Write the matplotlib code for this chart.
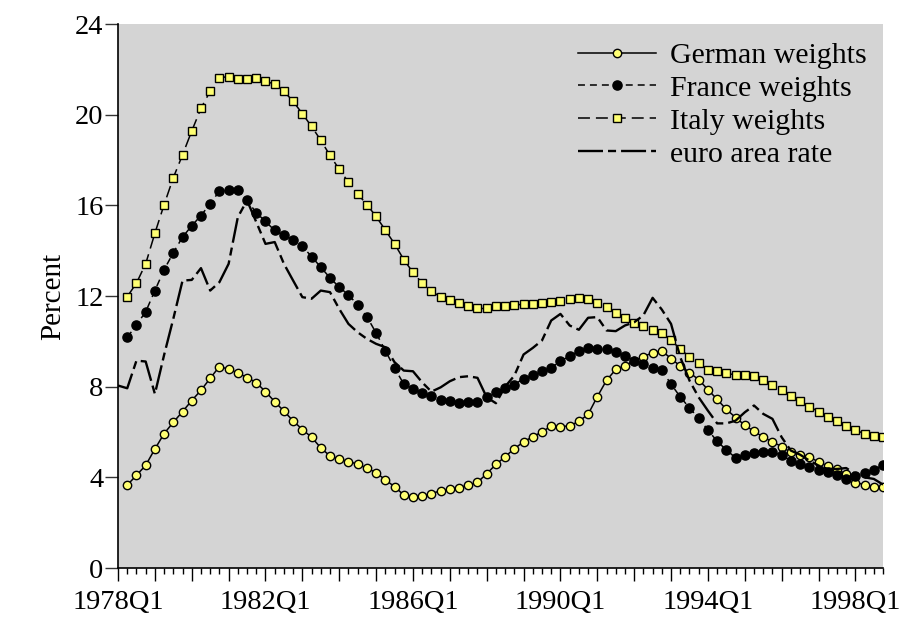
import numpy as np
import matplotlib
matplotlib.use("Agg")
import matplotlib.pyplot as plt
from matplotlib.ticker import MultipleLocator, FixedLocator

plt.rcParams['font.family'] = ['Liberation Serif', 'DejaVu Serif']
plt.rcParams['lines.scale_dashes'] = False

# quarterly data, weights start 1978Q2, euro area rate starts 1978Q1
german = [3.66, 4.09, 4.53, 5.25, 5.93, 6.43, 6.90, 7.39, 7.84, 8.37,
          8.89, 8.77, 8.61, 8.40, 8.18, 7.78, 7.34, 6.92, 6.49, 6.11,
          5.77, 5.30, 4.94, 4.81, 4.69, 4.59, 4.40, 4.21, 3.89, 3.59,
          3.22, 3.13, 3.16, 3.28, 3.41, 3.47, 3.55, 3.65, 3.78, 4.16,
          4.57, 4.91, 5.27, 5.56, 5.80, 6.00, 6.27, 6.24, 6.27, 6.47,
          6.78, 7.56, 8.28, 8.76, 8.93, 9.15, 9.33, 9.49, 9.58, 9.24,
          8.91, 8.62, 8.31, 7.87, 7.44, 7.00, 6.64, 6.30, 6.03, 5.78,
          5.56, 5.36, 5.10, 5.00, 4.90, 4.68, 4.50, 4.35, 4.15, 3.77,
          3.68, 3.58, 3.58]
france = [10.17, 10.73, 11.30, 12.24, 13.16, 13.91, 14.60, 15.10, 15.55, 16.07,
          16.63, 16.66, 16.66, 16.22, 15.67, 15.29, 14.89, 14.67, 14.48, 14.19,
          13.74, 13.27, 12.80, 12.39, 12.05, 11.61, 11.09, 10.37, 9.59, 8.82,
          8.12, 7.90, 7.74, 7.59, 7.42, 7.36, 7.30, 7.31, 7.34, 7.56,
          7.78, 7.95, 8.09, 8.36, 8.50, 8.68, 8.84, 9.12, 9.36, 9.56,
          9.70, 9.67, 9.64, 9.52, 9.37, 9.15, 8.98, 8.81, 8.72, 8.11,
          7.55, 7.06, 6.61, 6.09, 5.59, 5.21, 4.86, 4.97, 5.09, 5.12,
          5.12, 4.97, 4.74, 4.59, 4.44, 4.34, 4.22, 4.12, 3.93, 4.07,
          4.18, 4.33, 4.55]
italy = [11.97, 12.57, 13.42, 14.77, 16.03, 17.22, 18.23, 19.28, 20.28, 21.04,
         21.63, 21.68, 21.56, 21.57, 21.60, 21.47, 21.35, 21.03, 20.59, 20.04,
         19.48, 18.87, 18.20, 17.59, 17.02, 16.51, 16.03, 15.51, 14.91, 14.30,
         13.61, 13.04, 12.57, 12.22, 11.95, 11.83, 11.70, 11.55, 11.45, 11.45,
         11.54, 11.58, 11.61, 11.63, 11.63, 11.68, 11.73, 11.77, 11.85, 11.89,
         11.86, 11.68, 11.51, 11.24, 11.04, 10.83, 10.67, 10.52, 10.37, 10.04,
         9.67, 9.30, 9.03, 8.74, 8.67, 8.59, 8.52, 8.53, 8.45, 8.30,
         8.08, 7.86, 7.59, 7.36, 7.12, 6.90, 6.68, 6.50, 6.28, 6.09,
         5.92, 5.81, 5.77]
euro = [8.05, 7.93, 9.15, 9.11, 7.68, 9.40, 11.00, 12.68, 12.71, 13.23,
        12.24, 12.61, 13.42, 15.48, 16.22, 15.26, 14.30, 14.38, 13.42, 12.68,
        11.95, 11.88, 12.24, 12.17, 11.43, 10.77, 10.40, 10.11, 9.89, 9.74,
        9.08, 8.71, 8.68, 8.19, 7.78, 7.97, 8.24, 8.42, 8.46, 8.39,
        7.53, 7.27, 8.00, 8.49, 9.42, 9.71, 10.04, 10.92, 11.21, 10.70,
        10.51, 11.04, 11.07, 10.48, 10.45, 10.70, 10.84, 11.15, 11.92, 11.40,
        10.77, 9.30, 8.27, 7.53, 6.94, 6.38, 6.38, 6.50, 6.87, 7.17,
        6.80, 6.58, 5.77, 5.18, 5.00, 4.74, 4.52, 4.37, 4.37, 4.41,
        4.15, 4.00, 3.93, 3.68]

year_labels = ["1978Q1", "1982Q1", "1986Q1", "1990Q1", "1994Q1", "1998Q1"]

x_euro = 1978 + np.arange(len(euro)) / 4
x_w = 1978.25 + np.arange(len(german)) / 4

fig = plt.figure(figsize=(9.03, 6.17), dpi=100)
ax = fig.add_axes([0.1307, 0.0794, 0.8472, 0.8817])
ax.set_facecolor('#d4d4d4')

yellow = '#ffff73'
ax.plot(x_w, german, color='black', lw=1.1, marker='o', ms=6.0, mfc=yellow,
        mec='black', mew=1.0, label='German weights')
ax.plot(x_w, france, color='black', lw=1.1, dashes=(5, 3.6), marker='o', ms=6.6,
        mfc='black', mec='black', label='France weights')
ax.plot(x_w, italy, color='black', lw=1.1, dashes=(8.6, 4.3), marker='s', ms=5.8,
        mfc=yellow, mec='black', mew=1.0, label='Italy weights')
ax.plot(x_euro, euro, color='black', lw=1.7, dashes=(18, 3.6, 5.8, 3.6),
        label='euro area rate')

ax.set_xlim(1978, 1998.75)
ax.set_ylim(0, 24)
ax.yaxis.set_major_locator(MultipleLocator(4))
ax.xaxis.set_major_locator(FixedLocator(np.arange(1978, 1999)))
ax.xaxis.set_minor_locator(MultipleLocator(0.25))
ax.set_xticklabels([year_labels[i // 4] if i % 4 == 0 else '' for i in range(21)])

for s in ['top', 'right']:
    ax.spines[s].set_visible(False)
for s in ['left', 'bottom']:
    ax.spines[s].set_linewidth(1.2)

ax.tick_params(axis='y', direction='out', length=9.5, width=1.0, pad=1,
               labelsize=20.5, color='#333333')
ax.tick_params(axis='x', which='major', direction='out', length=9, width=1.0,
               pad=7, labelsize=20.5)
ax.tick_params(axis='x', which='minor', direction='out', length=4.5, width=1.0)

ax.set_ylabel('Percent', fontsize=21, labelpad=6)

ax.legend(loc='upper right', bbox_to_anchor=(1.0, 0.997), frameon=False,
          fontsize=21.5, handlelength=2.6, handletextpad=0.47,
          labelspacing=0.2, borderaxespad=0.15)

fig.savefig('out.png', dpi=100)
